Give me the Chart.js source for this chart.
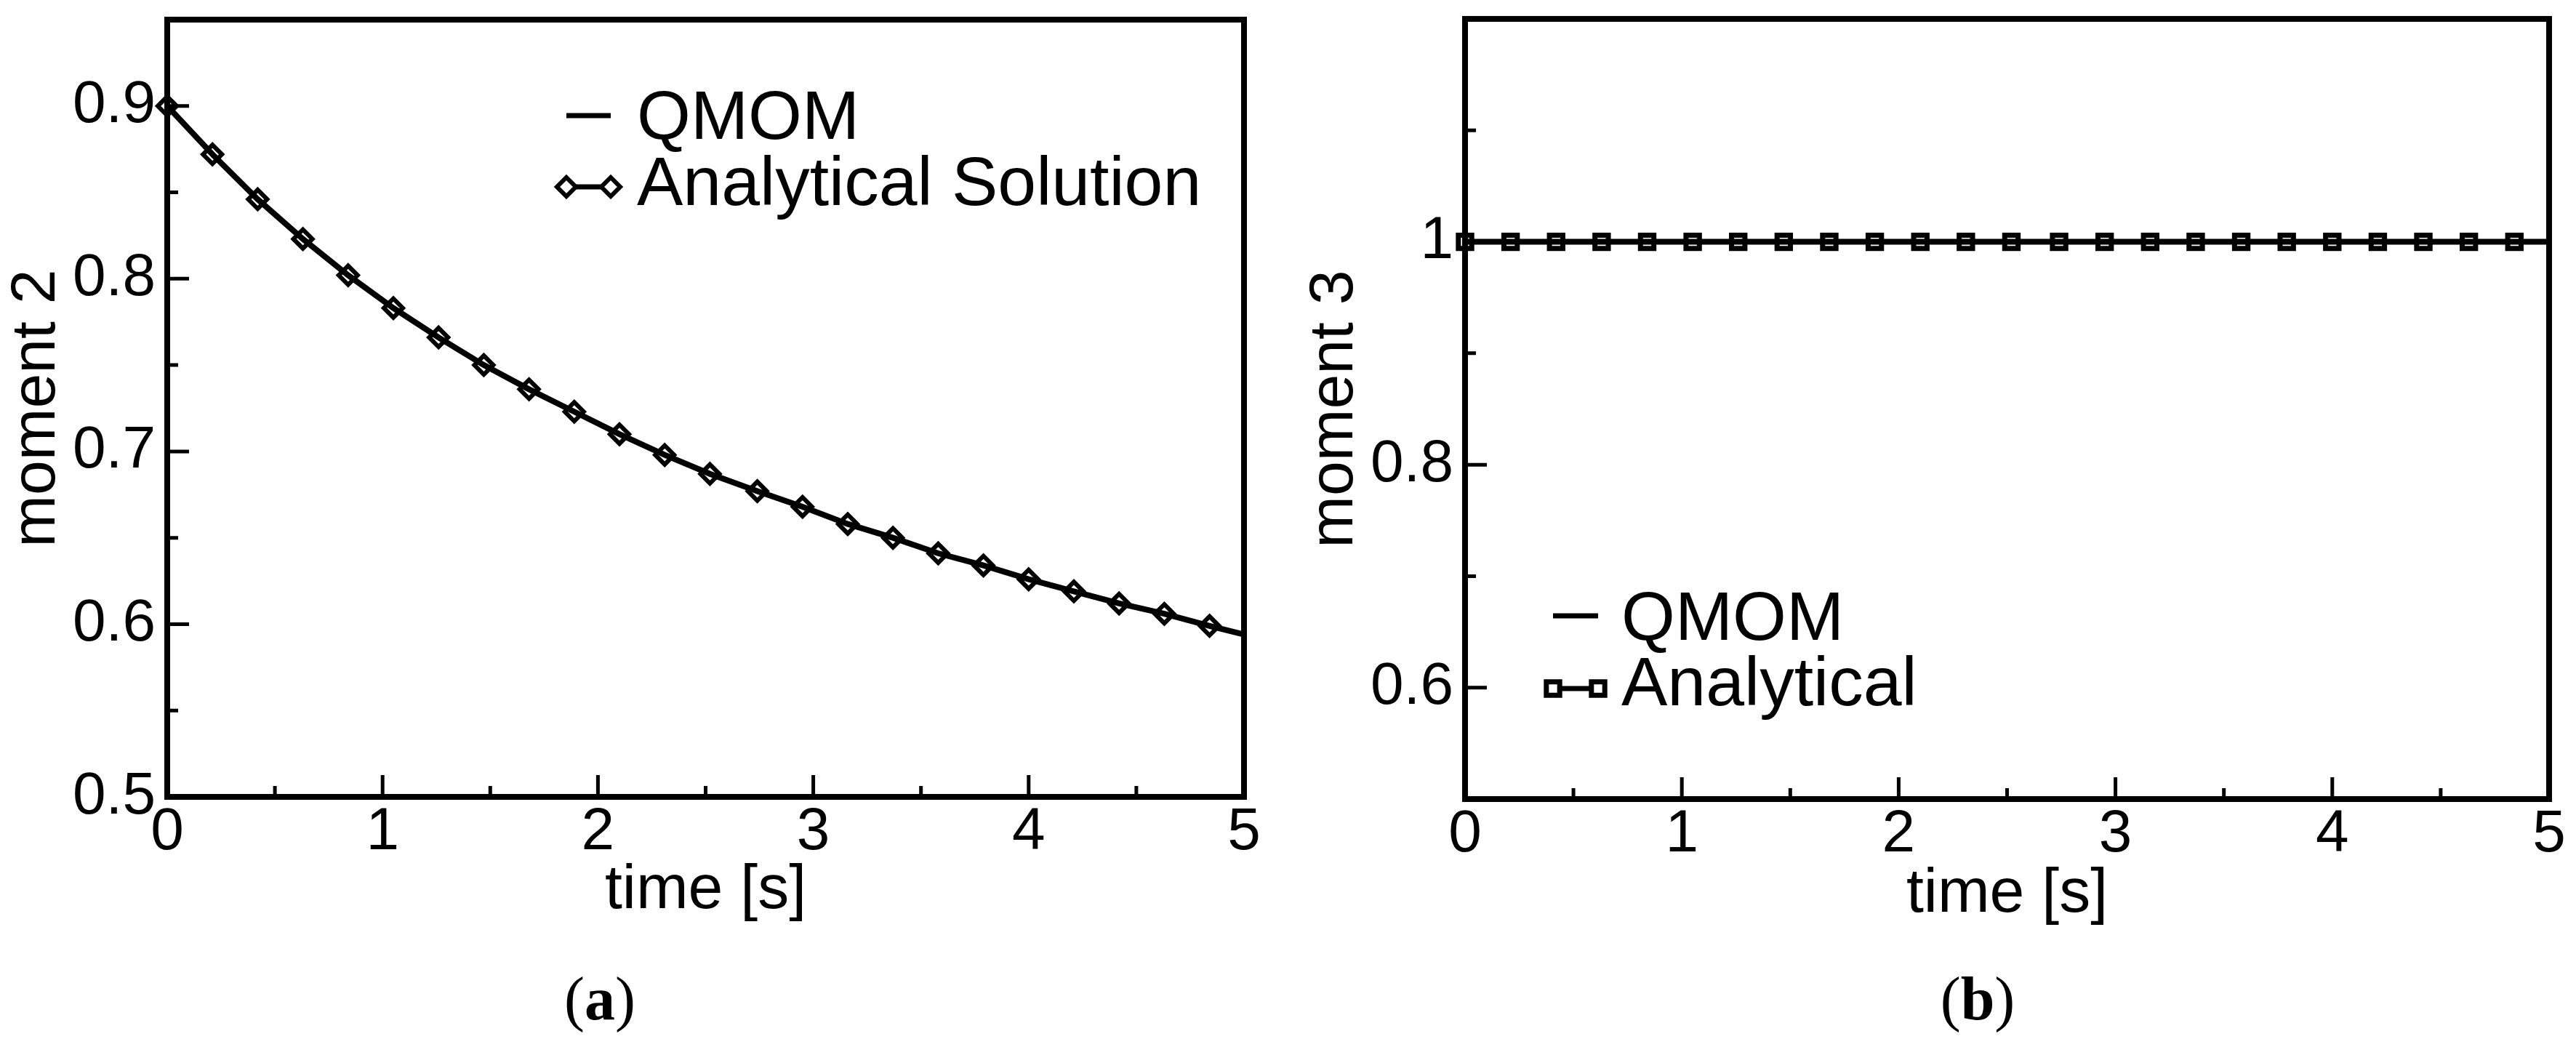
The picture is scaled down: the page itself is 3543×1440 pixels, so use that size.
<!DOCTYPE html>
<html>
<head>
<meta charset="utf-8">
<title>moment 2 / moment 3</title>
<script src="https://cdn.jsdelivr.net/npm/chart.js@4.4.1/dist/chart.umd.min.js"></script>
<style>
  html, body { margin: 0; padding: 0; background: #fff; }
  body { width: 3543px; height: 1440px; position: relative; overflow: hidden; }
  canvas { position: absolute; top: 0; }
  #chartA { left: 0; width: 1771px; height: 1300px; }
  #chartB { left: 1785px; width: 1758px; height: 1300px; }
  .caption {
    position: absolute; top: 1332px;
    font-family: 'Liberation Serif', 'Times New Roman', serif;
    font-size: 84px; line-height: 84px; color: #000;
    transform: translateX(-50%); white-space: nowrap;
  }
</style>
</head>
<body>
<canvas id="chartA" width="1771" height="1300"></canvas>
<canvas id="chartB" width="1758" height="1300"></canvas>
<div class="caption" style="left:825px">(<b>a</b>)</div>
<div class="caption" style="left:2720px">(<b>b</b>)</div>
<script>
// time of the analytical samples [s]
const timeS = [0, 0.21, 0.42, 0.63, 0.84, 1.05, 1.26, 1.47, 1.68, 1.89, 2.10, 2.31,
               2.52, 2.74, 2.95, 3.16, 3.37, 3.58, 3.79, 4.00, 4.21, 4.42, 4.63, 4.84];
// QMOM curve runs to the end of the axis
const qmomTimeS = [0, 0.21, 0.42, 0.63, 0.84, 1.05, 1.26, 1.47, 1.68, 1.89, 2.10, 2.31,
                   2.52, 2.74, 2.95, 3.16, 3.37, 3.58, 3.79, 4.00, 4.21, 4.42, 4.63, 4.84, 5.0];

// panel (a): moment 2
const m2Analytical = [0.900, 0.872, 0.846, 0.823, 0.802, 0.783, 0.766, 0.750, 0.736, 0.723, 0.710, 0.698,
                      0.687, 0.677, 0.668, 0.658, 0.650, 0.641, 0.634, 0.626, 0.619, 0.612, 0.606, 0.599];
const m2Qmom = [0.900, 0.872, 0.846, 0.823, 0.802, 0.783, 0.766, 0.750, 0.736, 0.723, 0.710, 0.698,
                0.687, 0.677, 0.668, 0.658, 0.650, 0.641, 0.634, 0.626, 0.619, 0.612, 0.606, 0.599, 0.594];

// panel (b): moment 3
const m3Analytical = [1, 1, 1, 1, 1, 1, 1, 1, 1, 1, 1, 1, 1, 1, 1, 1, 1, 1, 1, 1, 1, 1, 1, 1];
const m3Qmom = [1, 1, 1, 1, 1, 1, 1, 1, 1, 1, 1, 1, 1, 1, 1, 1, 1, 1, 1, 1, 1, 1, 1, 1, 1];

// ticks
const xTickValues = [0, 1, 2, 3, 4, 5];
const xTickLabels = ['0', '1', '2', '3', '4', '5'];
const xMinorTicks = [0.5, 1.5, 2.5, 3.5, 4.5];
const m2TickValues = [0.5, 0.6, 0.7, 0.8, 0.9];
const m2TickLabels = ['0.5', '0.6', '0.7', '0.8', '0.9'];
const m2MinorTicks = [0.55, 0.65, 0.75, 0.85];
const m3TickValues = [0.6, 0.8, 1.0];
const m3TickLabels = ['0.6', '0.8', '1'];
const m3MinorTicks = [0.7, 0.9, 1.1];

const FONT = "'Liberation Sans', Arial, Helvetica, sans-serif";

const toPoints = (xs, ys) => xs.map((x, i) => ({ x: x, y: ys[i] }));

// frame + inward ticks, xmgrace style
const frameTicks = {
  id: 'frameTicks',
  afterDatasetsDraw(chart, args, opts) {
    const { ctx, chartArea: a, scales: { x, y } } = chart;
    ctx.save();
    ctx.strokeStyle = '#000';
    ctx.lineWidth = opts.tickWidth;
    ctx.beginPath();
    opts.xMajor.forEach(v => { const p = x.getPixelForValue(v); ctx.moveTo(p, a.bottom); ctx.lineTo(p, a.bottom - opts.major); });
    opts.xMinor.forEach(v => { const p = x.getPixelForValue(v); ctx.moveTo(p, a.bottom); ctx.lineTo(p, a.bottom - opts.minor); });
    opts.yMajor.forEach(v => { const p = y.getPixelForValue(v); ctx.moveTo(a.left, p); ctx.lineTo(a.left + opts.major, p); });
    opts.yMinor.forEach(v => { const p = y.getPixelForValue(v); ctx.moveTo(a.left, p); ctx.lineTo(a.left + opts.minor, p); });
    ctx.stroke();
    ctx.lineWidth = opts.frameWidth;
    ctx.strokeRect(a.left, a.top, a.right - a.left, a.bottom - a.top);
    ctx.restore();
  }
};

// marker path, same geometry as Chart.js rect / rectRot
function markerPath(ctx, style, r, cx, cy) {
  ctx.beginPath();
  if (style === 'rectRot') {
    ctx.moveTo(cx, cy - r); ctx.lineTo(cx + r, cy); ctx.lineTo(cx, cy + r); ctx.lineTo(cx - r, cy);
    ctx.closePath();
  } else {
    const s = Math.SQRT1_2 * r;
    ctx.rect(cx - s, cy - s, 2 * s, 2 * s);
  }
}

// legend: line sample with a marker at both ends
const sampleLegend = {
  id: 'sampleLegend',
  afterDraw(chart, args, opts) {
    const ctx = chart.ctx;
    ctx.save();
    ctx.strokeStyle = '#000';
    ctx.fillStyle = '#000';
    ctx.font = opts.fontSize + 'px ' + FONT;
    ctx.textBaseline = 'alphabetic';
    chart.data.datasets.forEach((ds, i) => {
      const row = opts.rows[i];
      ctx.lineWidth = row.lineWidth;
      ctx.beginPath();
      ctx.moveTo(opts.x, row.lineY);
      ctx.lineTo(opts.x + opts.sample, row.lineY);
      ctx.stroke();
      if (ds.pointRadius > 0) {
        ctx.lineWidth = ds.pointBorderWidth;
        [opts.x, opts.x + opts.sample].forEach(px => {
          markerPath(ctx, ds.pointStyle, ds.pointRadius, px, row.lineY);
          ctx.fillStyle = '#fff';
          ctx.fill();
          ctx.stroke();
        });
        ctx.fillStyle = '#000';
      }
      ctx.fillText(ds.label, opts.textX, row.baseline);
    });
    ctx.restore();
  }
};

function makePanel(canvasId, p) {
  return new Chart(document.getElementById(canvasId), {
    type: 'line',
    data: {
      datasets: [
        {
          label: 'QMOM',
          data: toPoints(qmomTimeS, p.qmom),
          borderColor: '#000',
          borderWidth: 8,
          pointRadius: 0,
          tension: 0,
          clip: false
        },
        {
          label: p.analyticalLabel,
          data: toPoints(timeS, p.analytical),
          borderColor: '#000',
          borderWidth: 5,
          pointStyle: p.marker,
          pointRadius: p.markerRadius,
          pointBorderWidth: p.markerBorder,
          pointBorderColor: '#000',
          pointBackgroundColor: 'rgba(255,255,255,0)',
          tension: 0,
          clip: false
        }
      ]
    },
    options: {
      responsive: false,
      animation: false,
      devicePixelRatio: 1,
      layout: { autoPadding: false, padding: { left: 0, top: p.padTop, right: p.padRight, bottom: 0 } },
      plugins: {
        legend: { display: false },
        tooltip: { enabled: false },
        frameTicks: {
          xMajor: xTickValues, xMinor: xMinorTicks, yMajor: p.yTicks, yMinor: p.yMinor,
          major: 30, minor: 15, tickWidth: 5, frameWidth: 8
        },
        sampleLegend: p.legend
      },
      scales: {
        x: {
          type: 'linear',
          min: 0,
          max: 5,
          afterBuildTicks: s => { s.ticks = xTickValues.map(v => ({ value: v })); },
          afterFit: s => { s.height = p.xHeight; s.paddingLeft = 0; s.paddingRight = 0; },
          grid: { display: false, drawTicks: false },
          border: { display: false },
          ticks: {
            color: '#000', padding: 0, maxRotation: 0, autoSkip: false,
            font: { family: FONT, size: 82 },
            callback: (v, i) => xTickLabels[i]
          },
          title: {
            display: true, text: 'time [s]', color: '#000',
            font: { family: FONT, size: 86 },
            padding: { top: 0, bottom: p.xTitlePad }
          }
        },
        y: {
          type: 'linear',
          min: p.yMin,
          max: p.yMax,
          afterBuildTicks: s => { s.ticks = p.yTicks.map(v => ({ value: v })); },
          afterFit: s => { s.width = 230; s.paddingTop = 0; s.paddingBottom = 0; },
          grid: { display: false, drawTicks: false },
          border: { display: false },
          ticks: {
            color: '#000', padding: 16, autoSkip: false,
            font: { family: FONT, size: 82 },
            callback: (v, i) => p.yLabels[i]
          },
          title: {
            display: true, text: p.yTitle, color: '#000',
            font: { family: FONT, size: 86 },
            padding: { top: 0, bottom: 0 }
          }
        }
      }
    },
    plugins: [frameTicks, sampleLegend]
  });
}

makePanel('chartA', {
  qmom: m2Qmom, analytical: m2Analytical, analyticalLabel: 'Analytical Solution',
  marker: 'rectRot', markerRadius: 13, markerBorder: 6,
  yMin: 0.5, yMax: 0.95, yTicks: m2TickValues, yLabels: m2TickLabels, yMinor: m2MinorTicks,
  yTitle: 'moment 2',
  padTop: 27, padRight: 60, xHeight: 204, xTitlePad: 23,
  legend: {
    x: 779, sample: 61, textX: 876, fontSize: 95,
    rows: [{ lineY: 159, baseline: 191, lineWidth: 7 }, { lineY: 257, baseline: 282, lineWidth: 7 }]
  }
});

makePanel('chartB', {
  qmom: m3Qmom, analytical: m3Analytical, analyticalLabel: 'Analytical',
  marker: 'rect', markerRadius: 13, markerBorder: 7,
  yMin: 0.5, yMax: 1.2, yTicks: m3TickValues, yLabels: m3TickLabels, yMinor: m3MinorTicks,
  yTitle: 'moment 3',
  padTop: 26, padRight: 37, xHeight: 201, xTitlePad: 18,
  legend: {
    x: 351, sample: 62, textX: 445, fontSize: 95,
    rows: [{ lineY: 847, baseline: 880, lineWidth: 7 }, { lineY: 947, baseline: 970, lineWidth: 7 }]
  }
});
</script>
</body>
</html>
